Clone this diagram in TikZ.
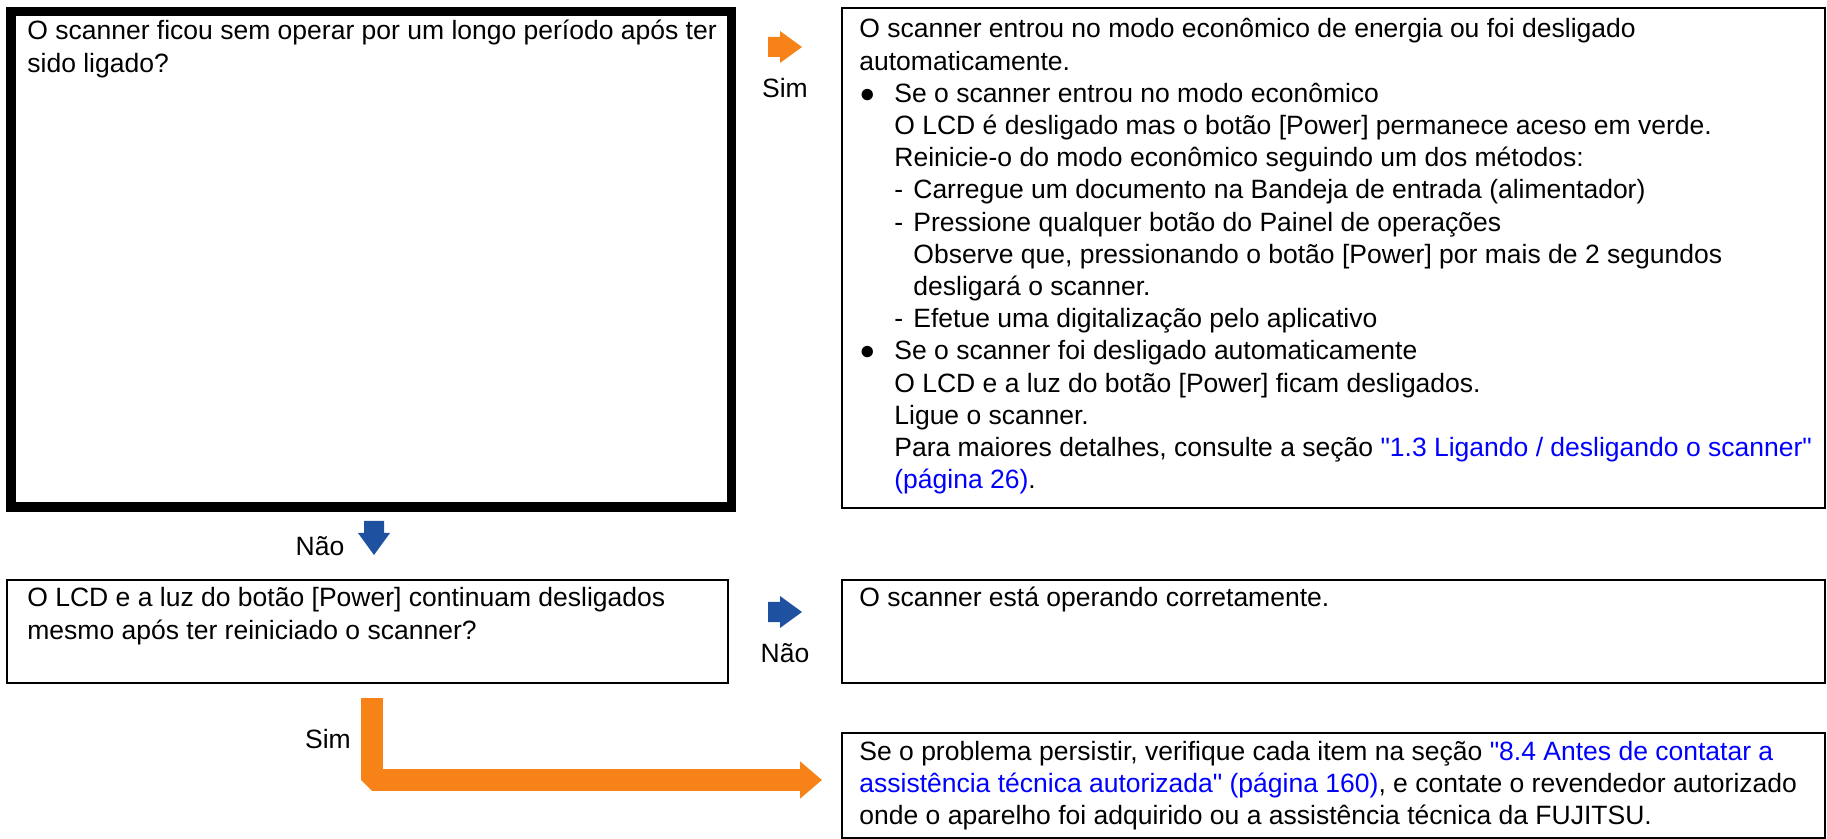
\documentclass[tikz,border=0pt]{standalone}
\usepackage{fontspec}
\setmainfont{Liberation Sans}[Ligatures=TeXOff]
\usetikzlibrary{arrows.meta}

\definecolor{simorange}{RGB}{247,130,24}
\definecolor{naoblue}{RGB}{30,82,160}
\definecolor{linkblue}{RGB}{0,0,255}

\newcommand{\lnk}[1]{\textcolor{linkblue}{#1}}
\newcommand{\tbox}[1]{\parbox[t]{540pt}{\raggedright #1}}
\newcommand{\bul}{\makebox[17.5pt][l]{●}}
\newcommand{\ina}{\hspace*{17.5pt}}
\newcommand{\inb}{\hspace*{27pt}}
\newcommand{\dsh}{\ina\makebox[9.5pt][l]{-}}

\begin{document}
\begin{tikzpicture}[
  x=0.5pt, y=-0.5pt,
  font=\fontsize{13.25}{16.1}\selectfont,
  qbox/.style={rectangle, draw, line width=1pt, inner sep=0pt, outer sep=0pt, anchor=north west},
  hotbox/.style={qbox, line width=4.75pt},
  txt/.style={inner sep=0pt, anchor=base west},
  lbl/.style={inner sep=0pt},
  sarr/.style={line width=11pt, simorange, line join=bevel, -{Triangle[length=11pt, width=18pt]}},
  blockarr/.pic={\fill (-17,-10) -- (-5,-10) -- (-5,-16) -- (17,0) -- (-5,16) -- (-5,10) -- (-17,10) -- cycle;}
]
\useasboundingbox (0,0) rectangle (1827,839);

% Boxes
\node[hotbox, minimum width=360.25pt, minimum height=247.75pt] (q1) at (10.75,11.75) {};
\node[qbox, minimum width=491.5pt, minimum height=250pt] (r1) at (842,8) {};
\node[qbox, minimum width=360.5pt, minimum height=51.5pt] (q2) at (7,580) {};
\node[qbox, minimum width=491.5pt, minimum height=51.5pt] (r2) at (842,580) {};
\node[qbox, minimum width=491.5pt, minimum height=52.5pt] (r3) at (842,733) {};

% Box texts
\node[txt] (q1t) at (27,40) {\tbox{O scanner ficou sem operar por um longo período após ter\\
  sido ligado?}};
\node[txt] (r1t) at (859,38) {\tbox{O scanner entrou no modo econômico de energia ou foi desligado\\
  automaticamente.\\
  \bul Se o scanner entrou no modo econômico\\
  \ina O LCD é desligado mas o botão [Power] permanece aceso em verde.\\
  \ina Reinicie-o do modo econômico seguindo um dos métodos:\\
  \dsh Carregue um documento na Bandeja de entrada (alimentador)\\
  \dsh Pressione qualquer botão do Painel de operações\\
  \inb Observe que, pressionando o botão [Power] por mais de 2 segundos\\
  \inb desligará o scanner.\\
  \dsh Efetue uma digitalização pelo aplicativo\\
  \bul Se o scanner foi desligado automaticamente\\
  \ina O LCD e a luz do botão [Power] ficam desligados.\\
  \ina Ligue o scanner.\\
  \ina Para maiores detalhes, consulte a seção \lnk{"1.3 Ligando / desligando o scanner"}\\
  \ina \lnk{(página 26)}.}};
\node[txt] (q2t) at (27,607) {\tbox{O LCD e a luz do botão [Power] continuam desligados\\
  mesmo após ter reiniciado o scanner?}};
\node[txt] (r2t) at (859,607) {\tbox{O scanner está operando corretamente.}};
\node[txt] (r3t) at (859,760) {\tbox{Se o problema persistir, verifique cada item na seção \lnk{"8.4 Antes de contatar a}\\
  \lnk{assistência técnica autorizada" (página 160)}, e contate o revendedor autorizado\\
  onde o aparelho foi adquirido ou a assistência técnica da FUJITSU.}};

% Yes / no markers
\pic[simorange] at (785,47) {blockarr};
\node[lbl] (sim1) at (785,88) {Sim};
\pic[naoblue, rotate=-90] at (374,538) {blockarr};
\node[lbl] (nao1) at (320,546) {Não};
\pic[naoblue] at (785,612) {blockarr};
\node[lbl] (nao2) at (785,653) {Não};

% Yes path to the last box
\draw[sarr] ([xshift=182.5pt, yshift=-7.5pt]q2.south west) |- ([xshift=-10pt, yshift=2.75pt]r3.west);
\node[lbl] (sim2) at (328,739) {Sim};

\end{tikzpicture}
\end{document}
